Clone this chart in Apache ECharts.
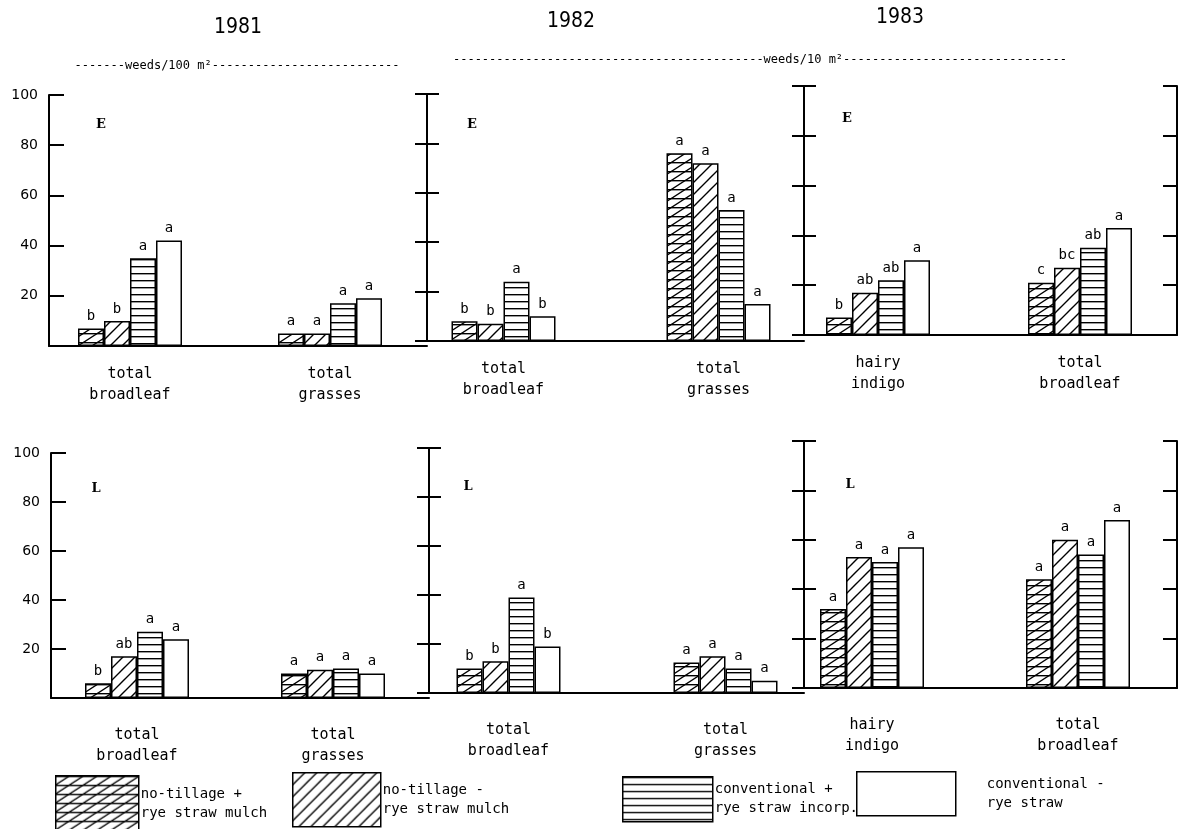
<!DOCTYPE html>
<html><head><meta charset="utf-8">
<script src="https://cdn.jsdelivr.net/npm/echarts@6/dist/echarts.min.js"></script>
<style>html,body{margin:0;padding:0;background:#fff}#c{width:1181px;height:829px}</style>
</head><body><div id="c"></div>
<script>
// ---------- DATA ----------
const years = ['1981', '1982', '1983'];
const unitLabels = ['weeds/100 m²', 'weeds/10 m²'];
const treatments = ['no-tillage +\nrye straw mulch', 'no-tillage -\nrye straw mulch', 'conventional +\nrye straw incorp.', 'conventional -\nrye straw'];
const yTicks = [0, 20, 40, 60, 80, 100];

const cat1981 = ['total\nbroadleaf', 'total\ngrasses'];
const cat1982 = ['total\nbroadleaf', 'total\ngrasses'];
const cat1983 = ['hairy\nindigo', 'total\nbroadleaf'];

// values: one row per treatment, one column per category
const valE1981 = [[7, 5], [10, 5], [35, 17], [42, 19]];
const sigE1981 = [['b', 'a'], ['b', 'a'], ['a', 'a'], ['a', 'a']];
const valE1982 = [[8, 76], [7, 72], [24, 53], [10, 15]];
const sigE1982 = [['b', 'a'], ['b', 'a'], ['a', 'a'], ['b', 'a']];
const valE1983 = [[7, 21], [17, 27], [22, 35], [30, 43]];
const sigE1983 = [['b', 'c'], ['ab', 'bc'], ['ab', 'ab'], ['a', 'a']];

const valL1981 = [[6, 10], [17, 11.5], [27, 12], [24, 10]];
const sigL1981 = [['b', 'a'], ['ab', 'a'], ['a', 'a'], ['a', 'a']];
const valL1982 = [[10, 12.5], [13, 15], [39, 10], [19, 5]];
const sigL1982 = [['b', 'a'], ['b', 'a'], ['a', 'a'], ['b', 'a']];
const valL1983 = [[32, 44], [53, 60], [51, 54], [57, 68]];
const sigL1983 = [['a', 'a'], ['a', 'a'], ['a', 'a'], ['a', 'a']];

// ---------- PATTERNS ----------
function makePattern(kind) {
  if (kind === 'w') { return '#fff'; }
  const c = document.createElement('canvas');
  let w = 12, h = 12;
  if (kind === 'hd') { w = 14; h = 9; }
  if (kind === 'h') { w = 8; h = 7; }
  if (kind === 'd') { w = 12; h = 12; }
  c.width = w; c.height = h;
  const g = c.getContext('2d');
  g.fillStyle = '#fff'; g.fillRect(0, 0, w, h);
  g.strokeStyle = '#000'; g.lineWidth = 1.4;
  if (kind === 'hd' || kind === 'h') {
    g.beginPath(); g.moveTo(0, 0.7); g.lineTo(w, 0.7); g.stroke();
  }
  if (kind === 'hd' || kind === 'd') {
    g.beginPath();
    g.moveTo(-w, 2 * h); g.lineTo(2 * w, -h);
    g.moveTo(-2 * w, 2 * h); g.lineTo(w, -h);
    g.moveTo(0, 2 * h); g.lineTo(3 * w, -h);
    g.stroke();
  }
  return { image: c, repeat: 'repeat' };
}
const fills = [makePattern('hd'), makePattern('d'), makePattern('h'), makePattern('w')];

// ---------- LAYOUT ----------
const MONO = '"DejaVu Sans Mono", monospace';
const panels = [
  { vals: valE1981, sigs: sigE1981, cats: cat1981, fL: 49, fR: 427, top: 95, base: 346, dL: 30, dW: 400, labels: true, right: false, lbTop: 18 },
  { vals: valE1982, sigs: sigE1982, cats: cat1982, fL: 427, fR: 804, top: 94, base: 341, dL: 396, dW: 430, labels: false, right: false, lbTop: 18 },
  { vals: valE1983, sigs: sigE1983, cats: cat1983, fL: 804, fR: 1177, top: 86, base: 335, dL: 777, dW: 416, labels: false, right: true, lbTop: 18 },
  { vals: valL1981, sigs: sigL1981, cats: cat1981, fL: 51, fR: 429, top: 453, base: 698, dL: 39, dW: 392, labels: true, right: false, lbTop: 27 },
  { vals: valL1982, sigs: sigL1982, cats: cat1982, fL: 429, fR: 804, top: 448, base: 693, dL: 400, dW: 434, labels: false, right: false, lbTop: 27 },
  { vals: valL1983, sigs: sigL1983, cats: cat1983, fL: 804, fR: 1177, top: 441, base: 688, dL: 769, dW: 444, labels: false, right: true, lbTop: 27 }
];

const grid = [], xAxis = [], yAxis = [], series = [];
const axisLineStyle = { color: '#000', width: 2 };

panels.forEach((p) => {
  // frame grid (axes only)
  const fg = grid.length;
  grid.push({ left: p.fL, width: p.fR - p.fL, top: p.top, height: p.base - p.top, containLabel: false });
  xAxis.push({ gridIndex: fg, type: 'value', min: 0, max: 1, position: 'bottom',
    axisLine: { show: true, lineStyle: axisLineStyle }, axisTick: { show: false }, axisLabel: { show: false }, splitLine: { show: false } });
  const yBase = { gridIndex: fg, type: 'value', min: yTicks[0], max: yTicks[yTicks.length - 1], interval: yTicks[1] - yTicks[0],
    splitLine: { show: false }, axisLine: { show: true, lineStyle: axisLineStyle } };
  if (p.labels) {
    yAxis.push(Object.assign({}, yBase, { position: 'left',
      axisTick: { show: true, inside: true, length: 15, lineStyle: axisLineStyle },
      axisLabel: { show: true, margin: 11, color: '#000', fontSize: 14, fontFamily: '"DejaVu Sans", sans-serif',
        formatter: (v) => (v === 0 ? '' : String(v)) } }));
  } else {
    yAxis.push(Object.assign({}, yBase, { position: 'left',
      axisTick: { show: true, inside: true, length: 12, lineStyle: axisLineStyle }, axisLabel: { show: false } }));
    yAxis.push(Object.assign({}, yBase, { position: 'left',
      axisTick: { show: true, inside: false, length: 12, lineStyle: axisLineStyle }, axisLabel: { show: false } }));
  }
  if (p.right) {
    yAxis.push(Object.assign({}, yBase, { position: 'right',
      axisTick: { show: true, inside: true, length: 14, lineStyle: axisLineStyle }, axisLabel: { show: false } }));
  }
  // data grid
  const dg = grid.length;
  grid.push({ left: p.dL, width: p.dW, top: p.top, height: p.base - p.top, containLabel: false });
  xAxis.push({ gridIndex: dg, type: 'category', data: p.cats,
    axisLine: { show: false }, axisTick: { show: false }, splitLine: { show: false },
    axisLabel: { show: true, margin: p.lbTop, color: '#000', fontSize: 15, lineHeight: 21, fontFamily: MONO } });
  const dy = yAxis.length;
  yAxis.push({ gridIndex: dg, type: 'value', min: yTicks[0], max: yTicks[yTicks.length - 1], show: false });
  treatments.forEach((t, ti) => {
    series.push({
      name: t, type: 'bar', xAxisIndex: dg, yAxisIndex: dy,
      data: p.vals[ti], barWidth: 26, barGap: '0%',
      itemStyle: { color: fills[ti], borderColor: '#000', borderWidth: 1.5 },
      emphasis: { disabled: true },
      label: { show: true, position: 'top', distance: 5, color: '#000', fontSize: 14, fontFamily: MONO,
        formatter: (prm) => p.sigs[ti][prm.dataIndex] }
    });
  });
});

// legends: one per treatment
const legendLayout = [
  { left: 55, top: 775, w: 83, h: 56, pad: -3 },
  { left: 292, top: 772, w: 88, h: 54, pad: -3 },
  { left: 622, top: 776, w: 90, h: 45, pad: -3 },
  { left: 856, top: 771, w: 99, h: 44, pad: 26 }
];
const legend = treatments.map((t, i) => ({
  data: [t], left: legendLayout[i].left, top: legendLayout[i].top, orient: 'horizontal', padding: 0,
  itemWidth: legendLayout[i].w, itemHeight: legendLayout[i].h, icon: 'rect', selectedMode: false,
  itemStyle: { borderColor: '#000', borderWidth: 1.5 },
  textStyle: { color: '#000', fontSize: 14, lineHeight: 19, fontFamily: MONO, padding: [0, 0, 0, legendLayout[i].pad] }
}));

const txt = (x, y, text, font) => ({ type: 'text', x: x, y: y, silent: true,
  style: { text: text, fill: '#000', font: font, align: 'center', verticalAlign: 'middle' } });
const yearFont = '21px "Liberation Sans Narrow", "DejaVu Sans Condensed", sans-serif';
const unitFont = '12px "DejaVu Sans Mono", monospace';
const panelFont = 'bold 13px "DejaVu Serif", serif';
const graphic = [
  txt(238, 28, years[0], yearFont),
  txt(571, 22, years[1], yearFont),
  txt(900, 18, years[2], yearFont),
  txt(237, 66, '-------' + unitLabels[0] + '--------------------------', unitFont),
  txt(760, 60, '-------------------------------------------' + unitLabels[1] + '-------------------------------', unitFont),
  txt(101, 125, 'E', panelFont), txt(472, 125, 'E', panelFont), txt(847, 119, 'E', panelFont),
  txt(96, 489, 'L', panelFont), txt(468, 487, 'L', panelFont), txt(850, 485, 'L', panelFont)
];

const chart = echarts.init(document.getElementById('c'), null, { renderer: 'canvas' });
chart.setOption({
  backgroundColor: '#fff',
  animation: false,
  grid: grid, xAxis: xAxis, yAxis: yAxis, series: series, legend: legend, graphic: graphic
});
</script></body></html>
